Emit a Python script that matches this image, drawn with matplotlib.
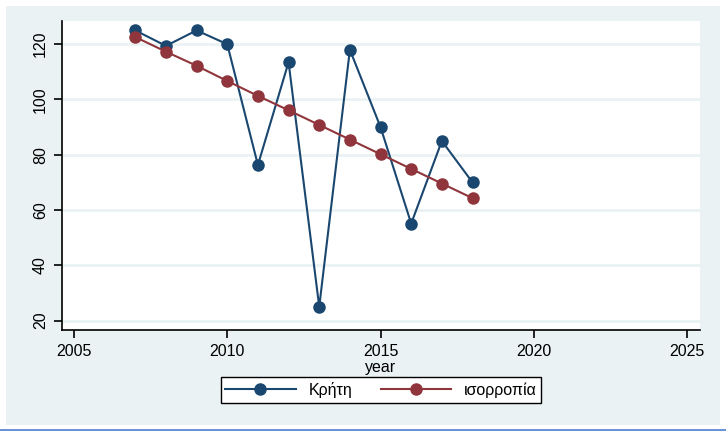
import matplotlib
matplotlib.use("Agg")
from matplotlib import pyplot as plt
from matplotlib.lines import Line2D

years = [2007, 2008, 2009, 2010, 2011, 2012, 2013, 2014, 2015, 2016, 2017, 2018]
kriti = [125, 119.4, 125, 120, 76.3, 113.5, 25, 118, 90, 55.1, 85, 70]
isorropia = [122.6, 117.3, 112.2, 106.7, 101.3, 96.1, 90.8, 85.5, 80.2, 74.9, 69.6, 64.3]
xticks = [2005, 2010, 2015, 2020, 2025]
yticks = [20, 40, 60, 80, 100, 120]

navy = "#1a476f"
maroon = "#90353b"
bg = "#eaf2f3"

plt.rcParams['font.family'] = ['Liberation Sans', 'DejaVu Sans']

fig = plt.figure(figsize=(7.26, 4.36), dpi=100)
W, H = 726, 436

# outer graph region (Stata style)
bgax = fig.add_axes([6 / W, 1 - 425 / H, 714 / W, 419 / H], zorder=-5)
bgax.set_facecolor(bg)
bgax.set_xticks([])
bgax.set_yticks([])
for s in bgax.spines.values():
    s.set_visible(False)
fig.lines.append(Line2D([0, 1], [1 - 430 / H, 1 - 430 / H], transform=fig.transFigure,
                        color="#4a7fd0", lw=1.2))

ax = fig.add_axes([62 / W, 1 - 330 / H, 638 / W, 309 / H])
ax.set_facecolor("white")
ax.plot(years, kriti, color=navy, lw=1.5, marker='o', ms=8, label="Κρήτη", zorder=3)
ax.plot(years, isorropia, color=maroon, lw=1.5, marker='o', ms=8, label="ισορροπία", zorder=3)

ax.set_xlim(2004.61, 2025.42)
ax.set_ylim(16.6, 128.4)
ax.set_xticks(xticks)
ax.set_yticks(yticks)
ax.grid(axis='y', color=bg, lw=2)
ax.set_axisbelow(True)
for s in ['top', 'right']:
    ax.spines[s].set_visible(False)
for s in ['left', 'bottom']:
    ax.spines[s].set_linewidth(1.2)
ax.tick_params(axis='both', length=6, width=1.2, labelsize=11.5, pad=4)
for lab in ax.get_yticklabels():
    lab.set_rotation(90)
    lab.set_va('center')
ax.set_xlabel("year", fontsize=11.5, labelpad=0.5)

leg = fig.legend(loc='center', bbox_to_anchor=(381 / W, 1 - 390 / H), ncol=2,
                 fontsize=11.5, frameon=True, fancybox=False, handlelength=4.4,
                 columnspacing=1.8, borderpad=0.3, handletextpad=0.8,
                 framealpha=1, facecolor='white')
leg.get_frame().set_edgecolor('black')
leg.get_frame().set_linewidth(1.0)

fig.savefig("out.png", dpi=100)
